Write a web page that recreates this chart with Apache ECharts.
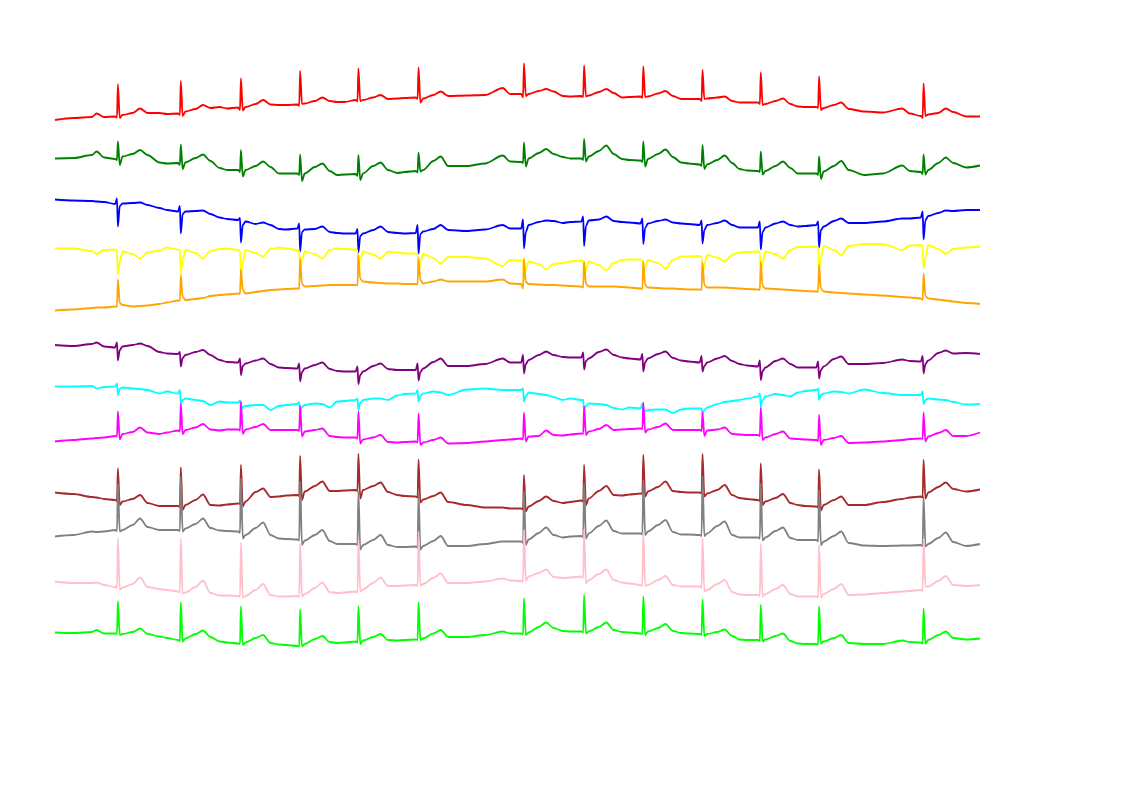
<!DOCTYPE html>
<html><head><meta charset="utf-8">
<script src="https://cdn.jsdelivr.net/npm/echarts@6/dist/echarts.min.js"></script>
<style>html,body{margin:0;padding:0;background:#fff}#c{width:1122px;height:793px}</style>
</head><body><div id="c"></div>
<script>
// time axis (seconds), shared by all leads
const times = [0.00,0.20,0.40,
0.45,0.53,0.65,0.67,0.68,0.70,0.73,0.84,0.92,1.00,
1.13,1.21,1.33,1.35,1.36,1.38,1.41,1.52,1.60,1.68,
1.78,1.86,1.98,2.00,2.01,2.03,2.06,2.17,2.25,2.33,
2.42,2.50,2.62,2.64,2.65,2.67,2.70,2.81,2.89,2.97,
3.05,3.13,3.25,3.27,3.28,3.30,3.33,3.44,3.52,3.60,
3.70,3.78,3.90,3.92,3.93,3.95,3.98,4.09,4.17,4.25,
4.45,4.65,
4.84,4.92,5.04,5.06,5.07,5.09,5.12,5.23,5.31,5.39,
5.49,5.57,5.69,5.71,5.72,5.74,5.77,5.88,5.96,6.04,
6.13,6.21,6.33,6.35,6.36,6.38,6.41,6.52,6.60,6.68,
6.77,6.85,6.97,6.99,7.00,7.02,7.05,7.16,7.24,7.32,
7.40,7.48,7.60,7.62,7.63,7.65,7.68,7.79,7.87,7.95,
8.03,8.11,8.23,8.25,8.26,8.28,8.31,8.42,8.50,8.58,
8.75,8.95,
9.16,9.24,9.36,9.38,9.39,9.41,9.44,9.55,9.63,9.71,
9.85,10.00];

// lead voltages (mV)
const leadRed = [0,0.04,0.06,
0.13,0.06,0.07,0.05,0.71,0.04,0.10,0.14,0.23,0.14,
0.14,0.12,0.13,0.10,0.78,0.08,0.17,0.22,0.30,0.24,
0.26,0.23,0.25,0.20,0.83,0.19,0.26,0.32,0.40,0.31,
0.30,0.30,0.31,0.28,0.98,0.32,0.33,0.38,0.45,0.38,
0.36,0.36,0.40,0.37,1.03,0.38,0.40,0.45,0.50,0.42,
0.43,0.44,0.45,0.42,1.05,0.35,0.43,0.50,0.57,0.48,
0.49,0.50,
0.64,0.52,0.52,0.45,1.13,0.48,0.52,0.58,0.62,0.57,
0.48,0.47,0.48,0.46,1.09,0.47,0.49,0.56,0.62,0.54,
0.45,0.46,0.47,0.44,1.07,0.46,0.47,0.53,0.58,0.48,
0.42,0.42,0.42,0.38,1.00,0.42,0.43,0.45,0.47,0.38,
0.35,0.35,0.35,0.32,0.95,0.30,0.32,0.38,0.43,0.32,
0.27,0.26,0.26,0.24,0.87,0.20,0.24,0.30,0.35,0.22,
0.17,0.15,
0.23,0.13,0.08,0.04,0.73,0.08,0.11,0.14,0.23,0.16,
0.07,0.07];

const leadGreen = [-0.01,0.00,0.06,
0.13,0.01,-0.02,-0.04,0.33,-0.14,0.03,0.08,0.16,0.06,
-0.09,-0.11,-0.10,-0.14,0.27,-0.22,-0.09,0.00,0.07,-0.06,
-0.20,-0.24,-0.24,-0.28,0.16,-0.37,-0.24,-0.16,-0.07,-0.18,
-0.31,-0.31,-0.31,-0.34,0.07,-0.46,-0.31,-0.18,-0.11,-0.26,
-0.34,-0.33,-0.32,-0.36,0.06,-0.44,-0.31,-0.16,-0.09,-0.24,
-0.30,-0.28,-0.26,-0.29,0.11,-0.27,-0.24,-0.06,0.03,-0.16,
-0.16,-0.11,
0.05,-0.07,-0.08,-0.10,0.31,-0.17,-0.01,0.10,0.18,0.08,
0.02,-0.01,-0.01,-0.04,0.38,-0.07,0.03,0.14,0.25,0.08,
-0.02,-0.04,-0.05,-0.08,0.33,-0.17,-0.02,0.08,0.17,0.02,
-0.09,-0.11,-0.13,-0.16,0.26,-0.22,-0.13,-0.04,0.05,-0.10,
-0.22,-0.25,-0.26,-0.28,0.13,-0.33,-0.26,-0.16,-0.07,-0.20,
-0.31,-0.31,-0.31,-0.34,0.03,-0.42,-0.27,-0.16,-0.06,-0.24,
-0.34,-0.31,
-0.15,-0.26,-0.28,-0.32,0.07,-0.33,-0.24,-0.10,0.01,-0.10,
-0.19,-0.15];

const leadBlue = [0.01,-0.01,-0.02,
-0.03,-0.04,-0.08,0.03,-0.53,-0.12,-0.07,-0.06,-0.05,-0.10,
-0.16,-0.20,-0.23,-0.12,-0.67,-0.28,-0.23,-0.22,-0.21,-0.28,
-0.35,-0.38,-0.40,-0.36,-0.85,-0.50,-0.43,-0.48,-0.45,-0.50,
-0.58,-0.59,-0.57,-0.47,-1.03,-0.64,-0.59,-0.58,-0.53,-0.64,
-0.66,-0.67,-0.67,-0.58,-1.05,-0.72,-0.67,-0.60,-0.53,-0.64,
-0.66,-0.67,-0.66,-0.50,-1.07,-0.68,-0.63,-0.58,-0.50,-0.60,
-0.62,-0.59,
-0.50,-0.57,-0.57,-0.39,-0.97,-0.64,-0.50,-0.44,-0.41,-0.42,
-0.46,-0.44,-0.43,-0.33,-0.92,-0.52,-0.41,-0.39,-0.33,-0.42,
-0.44,-0.45,-0.47,-0.37,-0.88,-0.56,-0.47,-0.42,-0.39,-0.45,
-0.47,-0.48,-0.50,-0.41,-0.87,-0.60,-0.50,-0.46,-0.41,-0.50,
-0.55,-0.55,-0.55,-0.43,-0.99,-0.64,-0.55,-0.47,-0.43,-0.50,
-0.53,-0.52,-0.50,-0.43,-0.95,-0.60,-0.53,-0.42,-0.37,-0.46,
-0.46,-0.43,
-0.37,-0.37,-0.35,-0.23,-0.79,-0.40,-0.32,-0.26,-0.21,-0.22,
-0.20,-0.20];

const leadYellow = [-0.01,-0.01,-0.06,
-0.12,-0.04,-0.03,-0.04,-0.54,-0.28,-0.07,-0.12,-0.21,-0.09,
-0.05,0.01,-0.03,-0.04,-0.51,-0.24,-0.04,-0.10,-0.21,-0.06,
-0.02,-0.01,-0.04,-0.06,-0.54,-0.28,-0.04,-0.10,-0.17,-0.02,
0.01,-0.01,-0.04,-0.06,-0.48,-0.24,-0.07,-0.12,-0.21,-0.04,
-0.01,-0.02,-0.03,-0.05,-0.48,-0.24,-0.07,-0.13,-0.21,-0.08,
-0.09,-0.11,-0.11,-0.12,-0.50,-0.28,-0.12,-0.20,-0.31,-0.18,
-0.18,-0.21,
-0.36,-0.24,-0.25,-0.26,-0.64,-0.44,-0.27,-0.32,-0.43,-0.32,
-0.30,-0.27,-0.25,-0.26,-0.64,-0.44,-0.27,-0.34,-0.45,-0.30,
-0.24,-0.23,-0.23,-0.24,-0.62,-0.40,-0.24,-0.30,-0.41,-0.24,
-0.17,-0.17,-0.16,-0.18,-0.56,-0.34,-0.14,-0.19,-0.27,-0.14,
-0.09,-0.08,-0.07,-0.09,-0.48,-0.28,-0.07,-0.12,-0.21,-0.04,
0.02,0.02,0.03,0.01,-0.44,-0.20,0.04,-0.04,-0.14,0.04,
0.08,0.08,
-0.04,0.05,0.06,0.04,-0.41,-0.20,0.06,-0.02,-0.12,-0.02,
0.01,0.03];

const leadOrange = [-0.01,0.01,0.04,
0.05,0.05,0.07,0.06,0.61,0.14,0.10,0.07,0.08,0.09,
0.12,0.15,0.19,0.18,0.70,0.26,0.20,0.22,0.24,0.28,
0.30,0.31,0.33,0.32,0.81,0.40,0.33,0.36,0.38,0.40,
0.41,0.42,0.43,0.42,1.03,0.52,0.47,0.48,0.49,0.50,
0.50,0.50,0.50,0.49,1.10,0.62,0.57,0.55,0.54,0.53,
0.53,0.52,0.52,0.51,1.03,0.60,0.53,0.57,0.61,0.57,
0.57,0.57,
0.61,0.53,0.52,0.43,1.03,0.56,0.52,0.51,0.50,0.50,
0.49,0.48,0.47,0.45,0.97,0.52,0.47,0.47,0.47,0.47,
0.46,0.45,0.43,0.42,0.97,0.50,0.45,0.44,0.43,0.43,
0.42,0.41,0.41,0.40,0.95,0.50,0.45,0.45,0.45,0.44,
0.43,0.42,0.41,0.40,0.97,0.48,0.43,0.42,0.41,0.40,
0.39,0.38,0.37,0.36,0.90,0.42,0.37,0.35,0.34,0.33,
0.31,0.29,
0.26,0.25,0.23,0.20,0.73,0.28,0.23,0.21,0.19,0.17,
0.14,0.12];

const leadPurple = [0.00,-0.02,0.02,
0.05,-0.03,-0.05,0.05,-0.31,-0.10,-0.03,0.00,0.03,-0.02,
-0.14,-0.17,-0.18,-0.14,-0.43,-0.26,-0.20,-0.14,-0.10,-0.20,
-0.30,-0.34,-0.35,-0.27,-0.60,-0.42,-0.37,-0.31,-0.27,-0.38,
-0.45,-0.46,-0.47,-0.37,-0.73,-0.54,-0.47,-0.40,-0.35,-0.48,
-0.52,-0.53,-0.53,-0.43,-0.78,-0.60,-0.53,-0.42,-0.37,-0.48,
-0.50,-0.50,-0.50,-0.37,-0.71,-0.54,-0.47,-0.34,-0.27,-0.42,
-0.42,-0.38,
-0.27,-0.35,-0.35,-0.20,-0.57,-0.38,-0.30,-0.20,-0.13,-0.20,
-0.24,-0.25,-0.25,-0.15,-0.49,-0.32,-0.27,-0.14,-0.09,-0.20,
-0.25,-0.27,-0.29,-0.18,-0.53,-0.34,-0.27,-0.18,-0.13,-0.26,
-0.31,-0.33,-0.35,-0.22,-0.53,-0.42,-0.35,-0.27,-0.22,-0.32,
-0.38,-0.41,-0.43,-0.31,-0.70,-0.52,-0.45,-0.32,-0.27,-0.38,
-0.45,-0.45,-0.45,-0.33,-0.67,-0.50,-0.43,-0.28,-0.23,-0.38,
-0.38,-0.36,
-0.29,-0.32,-0.33,-0.22,-0.57,-0.38,-0.31,-0.16,-0.11,-0.17,
-0.16,-0.18];

const leadCyan = [-0.01,-0.01,0.00,
-0.05,-0.02,-0.01,0.05,-0.18,-0.06,-0.03,-0.05,-0.06,-0.08,
-0.15,-0.11,-0.15,-0.08,-0.35,-0.28,-0.25,-0.28,-0.30,-0.38,
-0.31,-0.33,-0.33,-0.29,-0.48,-0.42,-0.40,-0.38,-0.38,-0.48,
-0.40,-0.38,-0.36,-0.32,-0.51,-0.42,-0.38,-0.35,-0.36,-0.43,
-0.31,-0.30,-0.28,-0.25,-0.48,-0.34,-0.28,-0.25,-0.25,-0.28,
-0.19,-0.16,-0.15,-0.08,-0.31,-0.20,-0.15,-0.11,-0.13,-0.18,
-0.07,-0.05,
-0.08,-0.08,-0.08,-0.05,-0.31,-0.20,-0.13,-0.16,-0.18,-0.22,
-0.28,-0.25,-0.28,-0.28,-0.48,-0.40,-0.35,-0.36,-0.38,-0.44,
-0.47,-0.43,-0.45,-0.35,-0.53,-0.50,-0.48,-0.47,-0.47,-0.54,
-0.47,-0.45,-0.45,-0.45,-0.56,-0.48,-0.43,-0.36,-0.32,-0.30,
-0.28,-0.25,-0.21,-0.15,-0.41,-0.28,-0.21,-0.16,-0.18,-0.21,
-0.13,-0.10,-0.08,-0.05,-0.28,-0.18,-0.15,-0.11,-0.12,-0.15,
-0.07,-0.14,
-0.18,-0.18,-0.18,-0.11,-0.36,-0.28,-0.25,-0.27,-0.28,-0.32,
-0.37,-0.36];

const leadMagenta = [-0.03,0.00,0.03,
0.04,0.05,0.08,0.07,0.57,0.01,0.12,0.16,0.25,0.15,
0.12,0.15,0.19,0.17,0.73,0.12,0.20,0.25,0.32,0.21,
0.19,0.21,0.21,0.19,0.77,0.12,0.21,0.26,0.32,0.20,
0.20,0.20,0.20,0.18,0.68,0.07,0.17,0.20,0.23,0.08,
0.06,0.05,0.05,0.03,0.57,-0.07,0.01,0.05,0.10,-0.04,
-0.05,-0.04,-0.03,-0.05,0.53,-0.10,-0.05,0.00,0.05,-0.07,
-0.06,-0.03,
0.00,0.01,0.03,0.01,0.55,-0.03,0.07,0.08,0.19,0.10,
0.09,0.11,0.13,0.12,0.67,0.10,0.17,0.22,0.30,0.20,
0.21,0.22,0.23,0.22,0.75,0.15,0.21,0.26,0.33,0.20,
0.20,0.20,0.20,0.18,0.55,0.08,0.19,0.21,0.25,0.12,
0.11,0.10,0.10,0.08,0.65,0.00,0.05,0.12,0.17,0.03,
0.02,0.01,0.00,-0.02,0.50,-0.10,0.00,0.04,0.08,-0.06,
-0.05,-0.03,
0.00,0.02,0.03,0.02,0.55,-0.03,0.07,0.14,0.20,0.08,
0.08,0.15];

const leadBrown = [0.01,-0.02,-0.08,
-0.09,-0.12,-0.14,-0.16,0.49,-0.24,-0.17,-0.12,-0.04,-0.20,
-0.26,-0.26,-0.26,-0.28,0.51,-0.34,-0.24,-0.14,-0.03,-0.24,
-0.25,-0.23,-0.21,-0.22,0.56,-0.27,-0.17,0.02,0.09,-0.08,
-0.07,-0.05,-0.04,-0.06,0.74,-0.14,0.03,0.14,0.23,0.04,
0.04,0.05,0.06,0.04,0.78,-0.11,0.06,0.14,0.21,0.02,
-0.04,-0.06,-0.07,-0.09,0.67,-0.19,-0.13,-0.06,0.01,-0.18,
-0.24,-0.29,
-0.29,-0.31,-0.31,-0.33,0.36,-0.37,-0.27,-0.16,-0.07,-0.16,
-0.20,-0.18,-0.15,-0.17,0.56,-0.24,-0.11,0.04,0.14,-0.04,
-0.05,-0.03,-0.01,-0.02,0.76,-0.07,0.03,0.12,0.23,0.04,
0.02,0.01,0.01,-0.01,0.78,-0.07,-0.01,0.06,0.16,-0.04,
-0.10,-0.12,-0.14,-0.16,0.59,-0.24,-0.17,-0.10,-0.02,-0.20,
-0.24,-0.26,-0.27,-0.29,0.47,-0.35,-0.24,-0.14,-0.07,-0.24,
-0.24,-0.18,
-0.12,-0.09,-0.07,-0.09,0.66,-0.11,0.01,0.12,0.21,0.08,
0.03,0.07];

const leadGray = [-0.01,0.02,0.09,
0.08,0.09,0.12,0.10,1.05,0.09,0.12,0.22,0.35,0.18,
0.12,0.12,0.12,0.10,1.19,0.09,0.15,0.24,0.35,0.16,
0.11,0.10,0.09,0.06,1.15,-0.05,0.02,0.16,0.27,0.02,
-0.05,-0.06,-0.07,-0.09,1.09,-0.18,-0.09,0.02,0.12,-0.10,
-0.16,-0.16,-0.16,-0.18,0.89,-0.27,-0.18,-0.08,0.02,-0.18,
-0.22,-0.22,-0.21,-0.23,0.85,-0.27,-0.20,-0.10,0.00,-0.20,
-0.20,-0.16,
-0.11,-0.11,-0.11,-0.14,0.89,-0.18,-0.07,0.06,0.17,0.02,
-0.03,-0.01,0.00,-0.02,1.05,-0.05,0.05,0.20,0.31,0.10,
0.05,0.05,0.05,0.03,1.12,0.02,0.09,0.22,0.32,0.08,
0.03,0.03,0.02,0.00,1.19,0.00,0.05,0.20,0.29,0.02,
-0.03,-0.03,-0.03,-0.05,1.05,-0.09,-0.03,0.10,0.17,-0.04,
-0.08,-0.08,-0.08,-0.11,0.93,-0.18,-0.11,0.00,0.09,-0.14,
-0.19,-0.20,
-0.19,-0.19,-0.18,-0.20,0.79,-0.21,-0.16,-0.04,0.07,-0.12,
-0.20,-0.16];

const leadPink = [0.01,-0.02,-0.02,
-0.01,-0.06,-0.10,-0.12,0.87,-0.16,-0.11,-0.04,0.09,-0.10,
-0.14,-0.16,-0.19,-0.21,0.87,-0.23,-0.21,-0.10,0.03,-0.22,
-0.27,-0.27,-0.28,-0.30,0.79,-0.31,-0.28,-0.16,-0.04,-0.26,
-0.29,-0.29,-0.28,-0.30,0.77,-0.29,-0.24,-0.12,-0.01,-0.20,
-0.22,-0.21,-0.19,-0.21,0.85,-0.19,-0.15,-0.02,0.09,-0.08,
-0.08,-0.07,-0.06,-0.08,1.01,-0.08,-0.04,0.08,0.17,-0.02,
-0.02,0.01,
0.07,0.03,0.02,0.00,1.04,0.03,0.11,0.18,0.25,0.10,
0.08,0.09,0.11,0.08,1.05,-0.03,0.04,0.16,0.25,0.04,
-0.01,-0.03,-0.06,-0.08,1.01,-0.08,-0.06,0.04,0.12,-0.06,
-0.09,-0.09,-0.09,-0.12,0.87,-0.19,-0.16,-0.04,0.04,-0.20,
-0.25,-0.26,-0.26,-0.28,0.77,-0.29,-0.24,-0.14,-0.06,-0.24,
-0.29,-0.29,-0.29,-0.31,0.74,-0.31,-0.24,-0.14,-0.04,-0.26,
-0.25,-0.22,
-0.19,-0.18,-0.16,-0.18,0.87,-0.09,-0.09,0.02,0.12,-0.06,
-0.08,-0.06];

const leadLime = [0.01,0.00,0.02,
0.06,-0.01,-0.01,-0.02,0.63,-0.04,-0.02,0.02,0.09,-0.02,
-0.07,-0.10,-0.14,-0.16,0.61,-0.17,-0.11,-0.02,0.05,-0.08,
-0.17,-0.19,-0.21,-0.22,0.53,-0.24,-0.19,-0.10,-0.04,-0.20,
-0.23,-0.24,-0.26,-0.27,0.47,-0.27,-0.22,-0.12,-0.06,-0.18,
-0.20,-0.19,-0.17,-0.19,0.53,-0.22,-0.15,-0.08,-0.02,-0.14,
-0.15,-0.14,-0.13,-0.14,0.61,-0.14,-0.11,-0.01,0.06,-0.08,
-0.08,-0.04,
0.03,-0.01,-0.01,-0.03,0.69,-0.04,0.01,0.12,0.21,0.10,
0.04,0.03,0.03,0.01,0.76,-0.01,0.03,0.12,0.21,0.06,
0.02,0.01,-0.01,-0.02,0.73,-0.04,0.03,0.10,0.18,0.04,
0.00,-0.01,-0.02,-0.04,0.67,-0.06,-0.02,0.02,0.07,-0.06,
-0.13,-0.14,-0.14,-0.16,0.56,-0.17,-0.13,-0.06,-0.01,-0.16,
-0.21,-0.22,-0.22,-0.23,0.53,-0.21,-0.17,-0.10,-0.04,-0.20,
-0.22,-0.22,
-0.15,-0.18,-0.19,-0.21,0.49,-0.21,-0.14,-0.04,0.03,-0.10,
-0.13,-0.11];

const leads = [leadRed, leadGreen, leadBlue, leadYellow, leadOrange, leadPurple,
               leadCyan, leadMagenta, leadBrown, leadGray, leadPink, leadLime];
const colors = ['#ff0000','#008000','#0000ff','#ffff00','#ffa500','#800080',
                '#00ffff','#ff00ff','#a52a2a','#808080','#ffc0cb','#00ff00'];
// vertical placement of each trace (layout only), in mV below the top edge
const offsets = [2.40,3.16,4.00,4.96,6.20,6.90,7.72,8.80,9.86,10.72,11.64,12.66];

const series = leads.map((vals, k) => ({
  type: 'line',
  data: times.map((t, i) => [t, vals[i] - offsets[k]]),
  showSymbol: false,
  symbol: 'none',
  smooth: 0.3,
  smoothMonotone: 'x',
  lineStyle: { color: colors[k], width: 1.8 },
  itemStyle: { color: colors[k] },
  clip: false,
  z: 2 + k
}));

const chart = echarts.init(document.getElementById('c'), null, { renderer: 'canvas' });
chart.setOption({
  animation: false,
  backgroundColor: '#ffffff',
  grid: { left: 55, right: 142, top: 0, bottom: 0 },
  xAxis: { type: 'value', min: 0, max: 10, show: false },
  yAxis: { type: 'value', min: -15.86, max: 0, show: false },
  series: series
});
</script>
</body></html>
